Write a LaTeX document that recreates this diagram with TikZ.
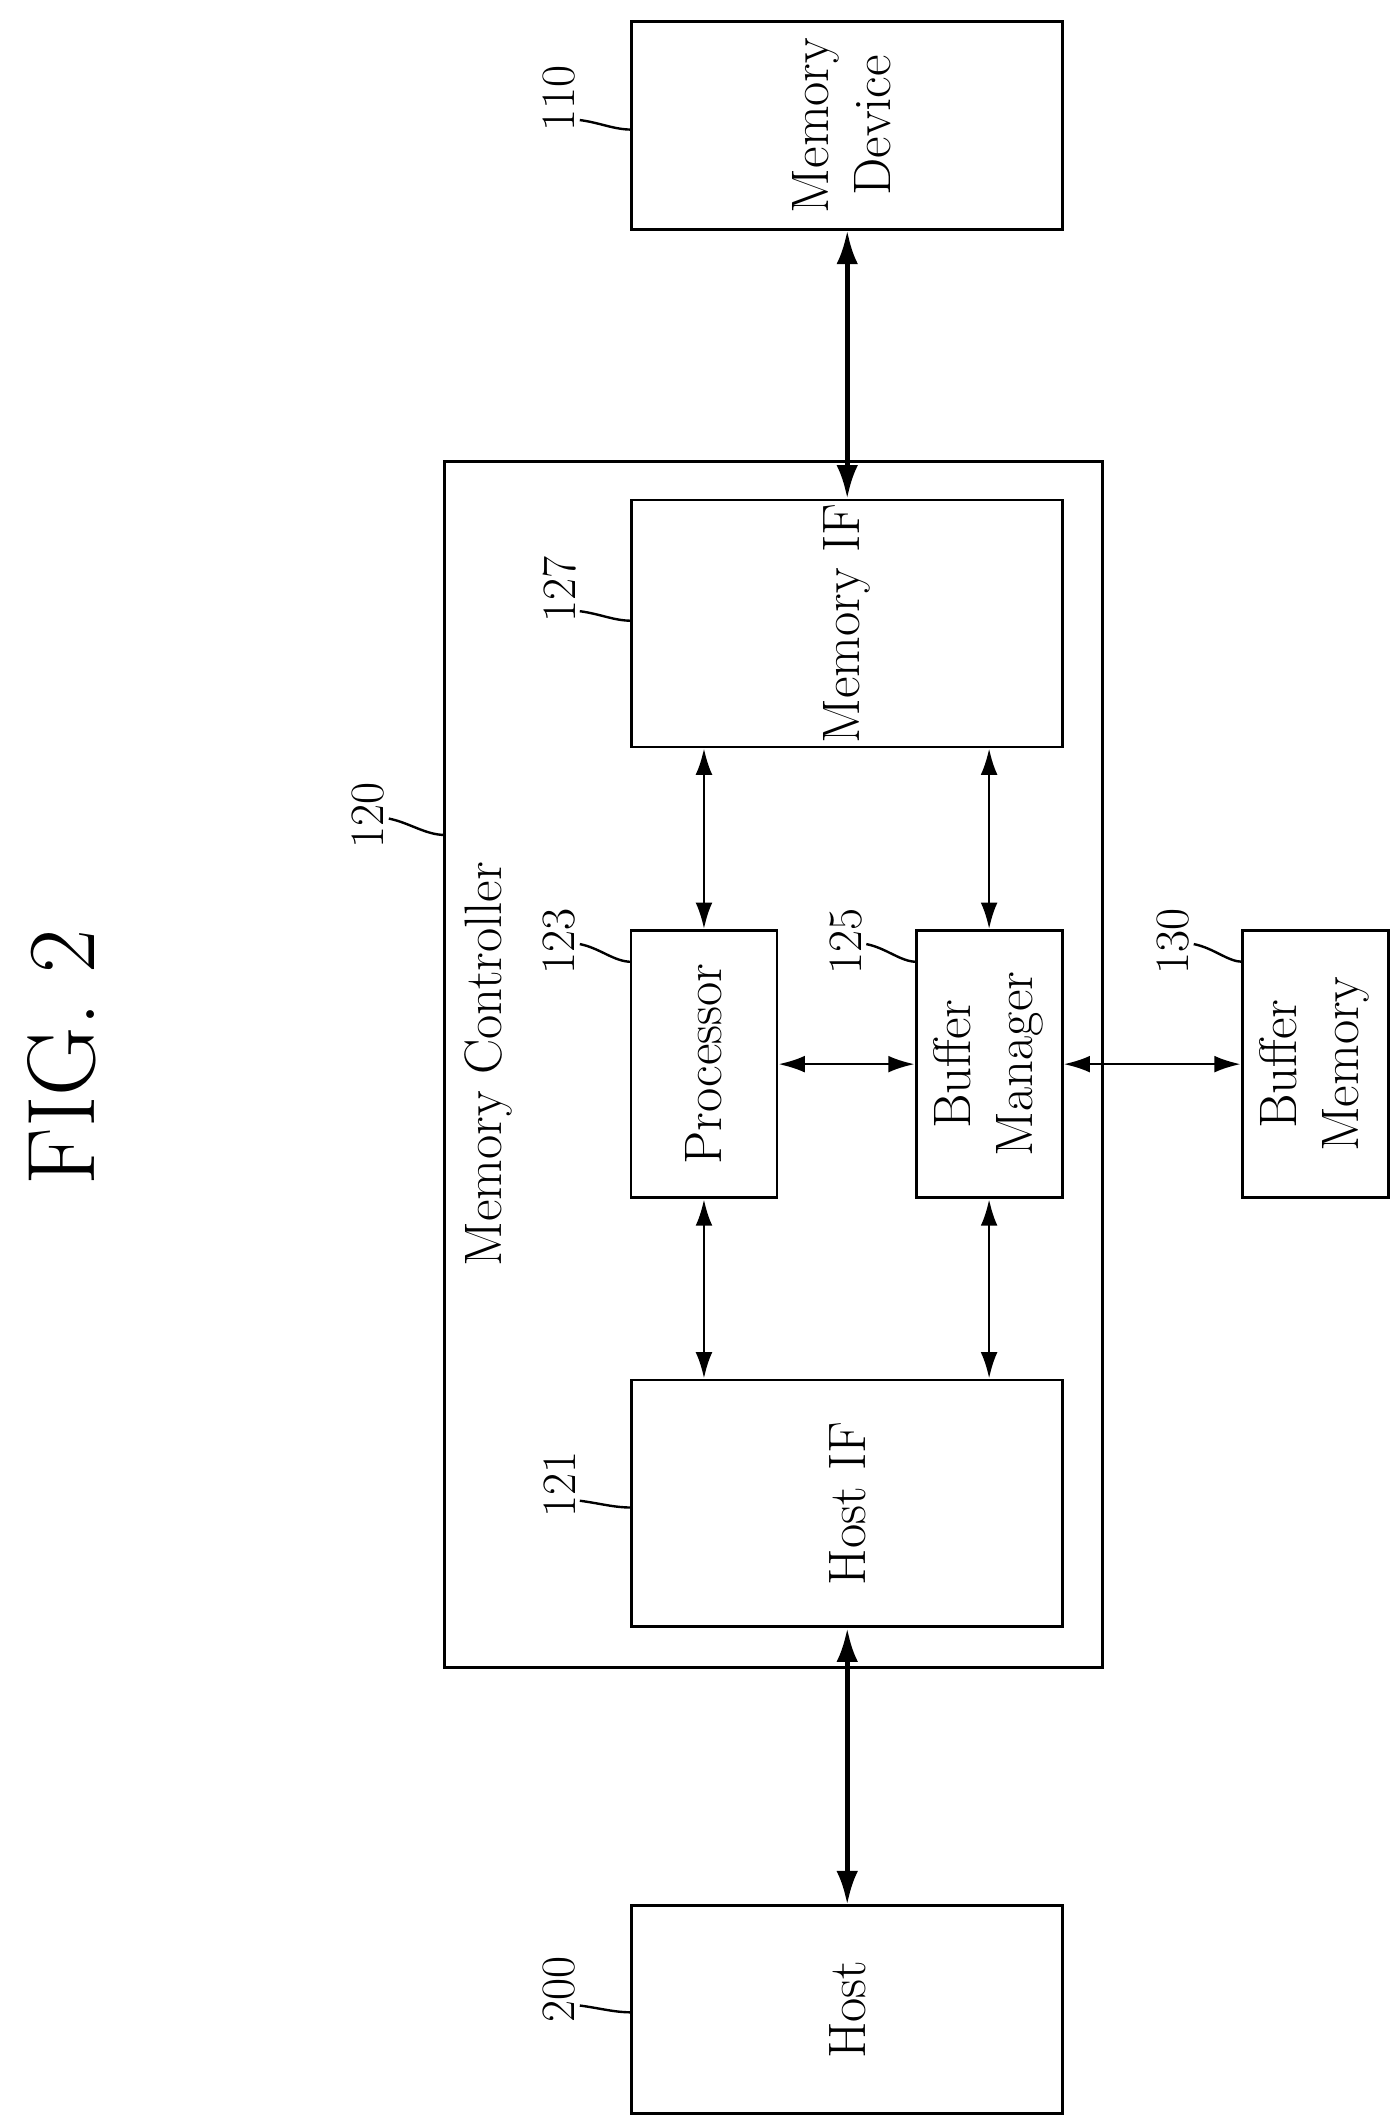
\documentclass[tikz,border=0pt]{standalone}
\usetikzlibrary{arrows.meta}
\newcommand\blkfont{\fontsize{22}{26}\selectfont}
\begin{document}
\begin{tikzpicture}[x=0.02cm,y=-0.02cm,
    box/.style={draw,line width=1.2pt,inner sep=0pt},
    num/.style={font=\fontsize{20}{24}\selectfont,rotate=90,inner sep=1pt},
    bus/.style={{Latex[length=14pt,width=9pt]}-{Latex[length=14pt,width=9pt]},line width=2pt},
    link/.style={{Latex[length=11pt,width=7pt]}-{Latex[length=11pt,width=7pt]},line width=1.1pt},
    lead/.style={line width=1pt}]
    \useasboundingbox (0,0) rectangle (1024,1551);

    % Title
    \node[font=\fontsize{40}{44}\selectfont,rotate=90] (title) at (45,775) {FIG. 2};

    % Blocks
    \node[box,minimum width=316*0.02cm,minimum height=152*0.02cm] (mdev) at (621,92) {\rotatebox{90}{\blkfont\begin{tabular}{c}Memory\\Device\end{tabular}}};
    \node[box,minimum width=482*0.02cm,minimum height=884*0.02cm] (mc) at (567,780) {};
    \node[font=\blkfont,rotate=90] (mctext) at (358,780) {Memory Controller};
    \node[box,minimum width=316*0.02cm,minimum height=181*0.02cm] (mif) at (621,457) {\rotatebox{90}{\blkfont Memory IF}};
    \node[box,minimum width=107*0.02cm,minimum height=196*0.02cm] (proc) at (516,780) {\rotatebox{90}{\blkfont Processor}};
    \node[box,minimum width=107*0.02cm,minimum height=196*0.02cm] (bm) at (725,780) {\rotatebox{90}{\blkfont\begin{tabular}{c}Buffer\\Manager\end{tabular}}};
    \node[box,minimum width=107*0.02cm,minimum height=196*0.02cm] (bmem) at (964,780) {\rotatebox{90}{\blkfont\begin{tabular}{c}Buffer\\Memory\end{tabular}}};
    \node[box,minimum width=316*0.02cm,minimum height=181*0.02cm] (hif) at (621,1102) {\rotatebox{90}{\blkfont Host IF}};
    \node[box,minimum width=316*0.02cm,minimum height=152*0.02cm] (host) at (621,1473) {\rotatebox{90}{\blkfont Host}};

    % Connections
    \draw[bus] (mdev.south) -- (mif.north);
    \draw[bus] (hif.south) -- (host.north);
    \draw[link] (mif.south -| proc.north) -- (proc.north);
    \draw[link] (mif.south -| bm.north) -- (bm.north);
    \draw[link] (proc.south) -- (hif.north -| proc.south);
    \draw[link] (bm.south) -- (hif.north -| bm.south);
    \draw[link] (proc.east) -- (bm.west);
    \draw[link] (bm.east) -- (bmem.west);

    % Reference numerals
    \node[num] (n110) at (410,72) {110};
    \draw[lead] (425,88) .. controls (440,90) and (450,95) .. (463,95);
    \node[num] (n127) at (410,432) {127};
    \draw[lead] (425,448) .. controls (440,450) and (450,455) .. (463,455);
    \node[num] (n120) at (270,598) {120};
    \draw[lead] (285,600) .. controls (300,603) and (312,612) .. (326,612);
    \node[num] (n123) at (410,690) {123};
    \draw[lead] (425,692) .. controls (440,695) and (450,705) .. (463,705);
    \node[num] (n125) at (620,690) {125};
    \draw[lead] (635,692) .. controls (650,695) and (660,705) .. (672,705);
    \node[num] (n130) at (860,690) {130};
    \draw[lead] (875,692) .. controls (890,695) and (900,705) .. (911,705);
    \node[num] (n121) at (410,1088) {121};
    \draw[lead] (425,1100) .. controls (440,1102) and (450,1105) .. (463,1105);
    \node[num] (n200) at (410,1458) {200};
    \draw[lead] (425,1470) .. controls (440,1472) and (450,1475) .. (463,1475);
\end{tikzpicture}
\end{document}
